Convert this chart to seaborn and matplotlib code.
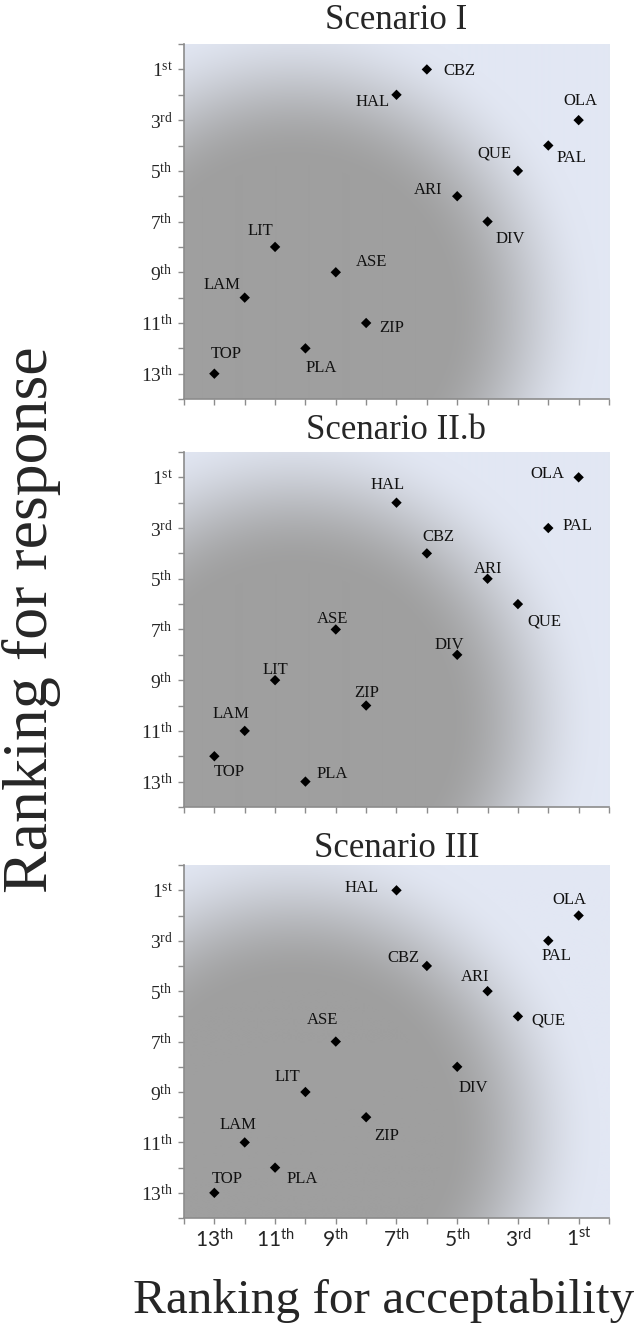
import numpy as np
import pandas as pd
import matplotlib
matplotlib.use('Agg')
import matplotlib.pyplot as plt
import seaborn as sns

sns.set_style('white')
plt.rcParams['font.family'] = ['Liberation Serif', 'DejaVu Serif']
plt.rcParams['mathtext.fontset'] = 'custom'
plt.rcParams['mathtext.rm'] = 'Liberation Serif'
plt.rcParams['mathtext.sf'] = 'Lato'

teams = ['CBZ', 'HAL', 'OLA', 'PAL', 'QUE', 'ARI', 'DIV', 'LIT', 'ASE', 'LAM', 'ZIP', 'PLA', 'TOP']

# acceptability rank / response rank for each scenario
acc_1 = [6, 7, 1, 2, 3, 5, 4, 11, 9, 12, 8, 10, 13]
resp_1 = [1, 2, 3, 4, 5, 6, 7, 8, 9, 10, 11, 12, 13]
acc_2 = [6, 7, 1, 2, 3, 4, 5, 11, 9, 12, 8, 10, 13]
resp_2 = [4, 2, 1, 3, 6, 5, 8, 9, 7, 11, 10, 13, 12]
acc_3 = [6, 7, 1, 2, 3, 4, 5, 10, 9, 12, 8, 11, 13]
resp_3 = [4, 1, 2, 3, 6, 5, 8, 9, 7, 11, 10, 12, 13]

titles = ['Scenario I', 'Scenario II.b', 'Scenario III']
rank_ticks = [1, 3, 5, 7, 9, 11, 13]
suffix = ['st', 'rd', 'th', 'th', 'th', 'th', 'th']

# label offsets in pixels (x right, y up), same order as teams
offs_1 = [(33, -2), (-24, -7), (2, 19), (23, -12), (-24, 17), (-29, 6), (23, -17),
          (-15, 16), (36, 10), (-23, 13), (26, -5), (16, -20), (12, 20)]
offs_2 = [(12, 16), (-9, 18), (-31, 3), (29, 2), (26, -17), (1, 10), (-8, 10),
          (0, 10), (-3, 10), (-14, 17), (1, 13), (27, 8), (15, -16)]
offs_3 = [(-23, 8), (-35, 2), (-9, 16), (8, -15), (30, -4), (-12, 14), (16, -21),
          (-18, 15), (-13, 22), (-7, 17), (21, -19), (27, -11), (13, 14)]

scenarios = [(acc_1, resp_1, offs_1), (acc_2, resp_2, offs_2), (acc_3, resp_3, offs_3)]
title_pads = [11, 9, 6]

# radial shading, computed in pixel space of the axes (row 0 = bottom)
W, H = 425, 355
yy, xx = np.mgrid[0:H, 0:W]
r = np.hypot(xx - 110, yy - 85)
t = np.clip((r - 150) / (305 - 150), 0, 1)
t = 0.5 - 0.5 * np.cos(np.pi * t)
dark = np.array([159, 159, 159]) / 255
light = np.array([226, 231, 243]) / 255
shade = dark[None, None, :] * (1 - t[..., None]) + light[None, None, :] * t[..., None]

fig = plt.figure(figsize=(6.42, 13.4), dpi=100)
boxes = [(0.2866, 0.7022, 0.662, 0.2649),
         (0.2866, 0.3978, 0.662, 0.2649),
         (0.2866, 0.0910, 0.662, 0.2634)]

for i, (acc, resp, offs) in enumerate(scenarios):
    ax = fig.add_axes(boxes[i])
    ax.imshow(shade, extent=[0, 1, 0, 1], transform=ax.transAxes, origin='lower',
              aspect='auto', zorder=0, interpolation='bilinear')
    df = pd.DataFrame({'team': teams, 'acc': acc, 'resp': resp})
    sns.scatterplot(data=df, x='acc', y='resp', marker='D', color='black', s=28,
                    edgecolor='none', ax=ax, zorder=3)
    for name, x, y, (dx, dy) in zip(teams, acc, resp, offs):
        ax.annotate(name, (x, y), xytext=(dx, dy), textcoords='offset pixels',
                    ha='center', va='center', fontsize=12, color='#111111')
    ax.set_xlim(14, 0)
    ax.set_ylim(14, 0)
    ax.set_xticks(range(0, 15))
    ax.set_yticks(range(0, 15))
    ax.set_yticklabels(['$\\mathregular{%d^{%s}}$' % (v, suffix[rank_ticks.index(v)])
                        if v in rank_ticks else '' for v in range(0, 15)], fontsize=14)
    if i == 2:
        ax.set_xticklabels(['$\\mathsf{%d^{%s}}$' % (v, suffix[rank_ticks.index(v)])
                            if v in rank_ticks else '' for v in range(0, 15)], fontsize=15)
    else:
        ax.set_xticklabels([])
    ax.set_xlabel('')
    ax.set_ylabel('')
    ax.tick_params(direction='out', length=4, width=1, color='#8c8c8c', pad=4,
                   bottom=True, left=True)
    for side in ['top', 'right']:
        ax.spines[side].set_visible(False)
    for side in ['left', 'bottom']:
        ax.spines[side].set_color('#8c8c8c')
        ax.spines[side].set_linewidth(1.2)
    ax.set_title(titles[i], fontsize=25, pad=title_pads[i])

fig.text(0.049, 1 - 620 / 1340, 'Ranking for response', rotation=90,
         ha='center', va='center', fontsize=46)
fig.text(0.598, 0.029, 'Ranking for acceptability', ha='center', va='center', fontsize=35.5)

fig.savefig('out.png', dpi=100)
